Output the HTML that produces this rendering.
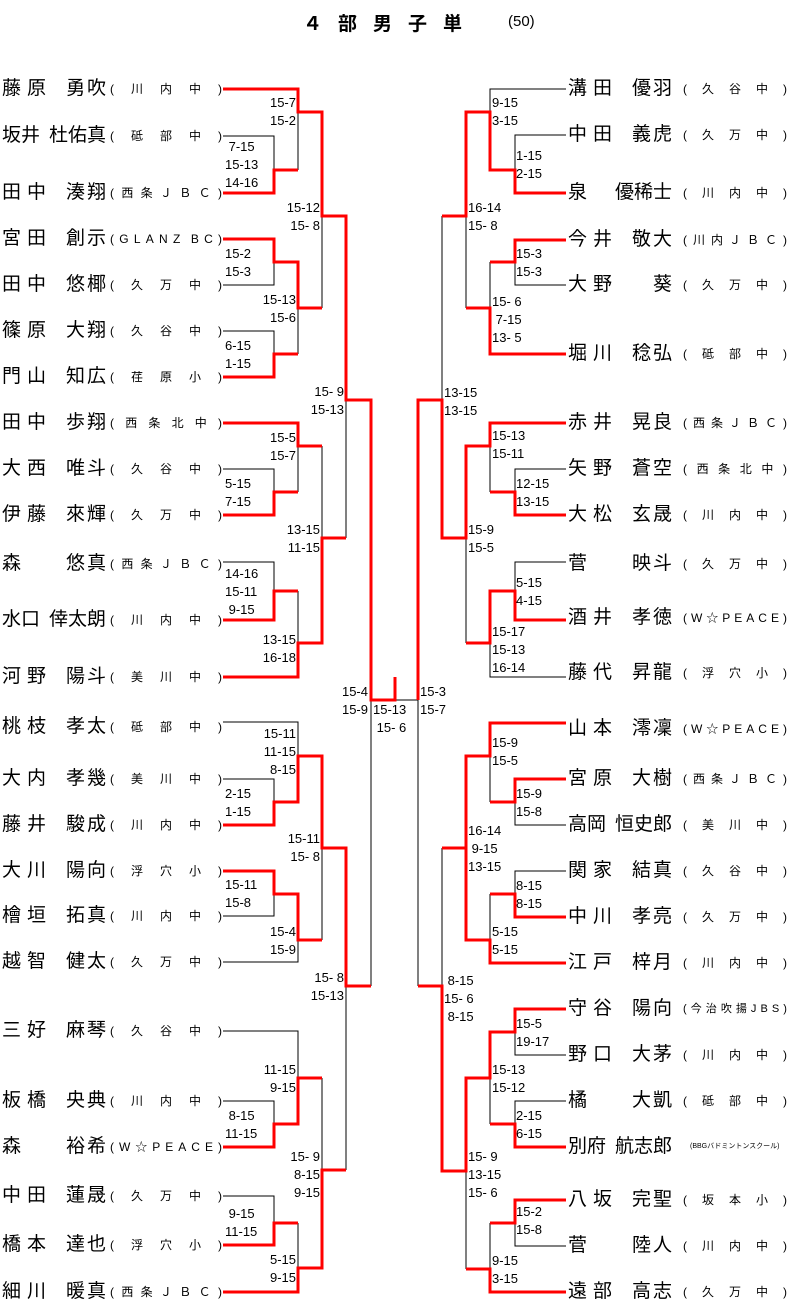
<!DOCTYPE html>
<html><head><meta charset="utf-8">
<style>
body{margin:0;width:789px;height:1316px;background:#fff;position:relative;overflow:hidden;font-family:"Liberation Sans","Noto Sans CJK JP",sans-serif;color:#000}
svg{position:absolute;left:0;top:0}
i{font-style:normal}
.n{position:absolute;width:104px;height:22px;line-height:22px;font-size:19px;display:flex;justify-content:space-between;white-space:nowrap}
.n .a{letter-spacing:6px}
.n .b{letter-spacing:2px;margin-right:-2px}
.n.t3 .a,.n.t3 .b{letter-spacing:0;margin-right:0}
.t{position:absolute;height:22px;line-height:22px;font-size:12px;display:flex;justify-content:space-between;white-space:nowrap}
.L .n{left:2px}.L .t{left:110px;width:112px}
.R .n{left:568px}.R .t{left:683px;width:104px}
.s{position:absolute;font-size:13px;line-height:18px;white-space:pre}
.r{text-align:right}
.title{position:absolute;top:9px;left:303px;font-size:19px;font-weight:bold;letter-spacing:16px}
.title2{position:absolute;top:13px;left:508px;font-size:15px}
</style></head><body>
<div class="title">４部男子単</div><div class="title2">(50)</div>
<svg width="789" height="1316">
<g stroke="#000" stroke-width="1" fill="none">
<path d="M223 136H274V170M298 112V170M223 285H274V262M223 331H274V354M298 308V354M322 216V308M223 469H274V492M298 446V492M223 562H274V591M298 591V643M322 446V538M346 400V538M395 700H418M371 700V986M418 700V986M223 722H298V756M223 779H274V802M223 916H274V894M223 962H298V940M322 848V940M346 986V1170M223 1031H298V1078M223 1101H274V1124M322 1078V1170M223 1196H274V1223M298 1223V1268"/>
<path d="M566 89H490V112M566 135H515V170M490 262V308M466 216V308M566 285H515V262M442 216V400M566 469H515V492M490 446V492M566 562H515V591M490 643V677H566M466 538V643M566 825H515V802M490 756V802M566 871H515V894M490 894V940M442 848V986M566 1055H515V1032M566 1101H515V1124M490 1078V1124M466 1171V1269M566 1246H515V1223M490 1223V1269"/>
</g>
<g stroke="#f00" stroke-width="3" fill="none">
<path d="M223 89H298V112H322V216H346V400H371V700H395V677"/>
<path d="M223 193H274V170H298"/>
<path d="M223 239H274V262H298V308H322"/>
<path d="M223 377H274V354H298"/>
<path d="M223 423H298V446H322"/>
<path d="M223 515H274V492H298"/>
<path d="M223 620H274V591H298"/>
<path d="M223 677H298V643H322V538H346"/>
<path d="M223 825H274V802H298V756H322V848H346V986H371"/>
<path d="M223 871H274V894H298V940H322"/>
<path d="M223 1147H274V1124H298V1078H322"/>
<path d="M223 1245H274V1223H298"/>
<path d="M223 1292H298V1268H322V1170H346"/>
<path d="M566 193H515V170H490V112H466V216H442"/>
<path d="M566 240H515V262H490"/>
<path d="M566 354H490V308H466"/>
<path d="M566 423H490V446H466V538H442V400H418V700"/>
<path d="M566 515H515V492H490"/>
<path d="M566 620H515V591H490V643H466"/>
<path d="M566 723H490V756H466V940H490V963H566"/>
<path d="M566 779H515V802H490"/>
<path d="M566 917H515V894H490"/>
<path d="M466 848H442"/>
<path d="M418 986H442V1171H466V1078H490V1032H515V1009H566"/>
<path d="M566 1147H515V1124H490"/>
<path d="M566 1200H515V1223H490"/>
<path d="M566 1292H490V1269H466"/>
</g>
</svg>

<div class="L">
<div class="n" style="top:78px"><span class="a">藤原</span><span class="b">勇吹</span></div><div class="t" style="top:78px"><i>(</i><i>川</i><i>内</i><i>中</i><i>)</i></div>
<div class="n t3" style="top:125px"><span class="a">坂井</span><span class="b">杜佑真</span></div><div class="t" style="top:125px"><i>(</i><i>砥</i><i>部</i><i>中</i><i>)</i></div>
<div class="n" style="top:182px"><span class="a">田中</span><span class="b">湊翔</span></div><div class="t" style="top:182px"><i>(</i><i>西</i><i>条</i><i>Ｊ</i><i>Ｂ</i><i>Ｃ</i><i>)</i></div>
<div class="n" style="top:228px"><span class="a">宮田</span><span class="b">創示</span></div><div class="t" style="top:228px"><i>(</i><i>G</i><i>L</i><i>A</i><i>N</i><i>Z</i><i> </i><i>B</i><i>C</i><i>)</i></div>
<div class="n" style="top:274px"><span class="a">田中</span><span class="b">悠椰</span></div><div class="t" style="top:274px"><i>(</i><i>久</i><i>万</i><i>中</i><i>)</i></div>
<div class="n" style="top:320px"><span class="a">篠原</span><span class="b">大翔</span></div><div class="t" style="top:320px"><i>(</i><i>久</i><i>谷</i><i>中</i><i>)</i></div>
<div class="n" style="top:366px"><span class="a">門山</span><span class="b">知広</span></div><div class="t" style="top:366px"><i>(</i><i>荏</i><i>原</i><i>小</i><i>)</i></div>
<div class="n" style="top:412px"><span class="a">田中</span><span class="b">歩翔</span></div><div class="t" style="top:412px"><i>(</i><i>西</i><i>条</i><i>北</i><i>中</i><i>)</i></div>
<div class="n" style="top:458px"><span class="a">大西</span><span class="b">唯斗</span></div><div class="t" style="top:458px"><i>(</i><i>久</i><i>谷</i><i>中</i><i>)</i></div>
<div class="n" style="top:504px"><span class="a">伊藤</span><span class="b">來輝</span></div><div class="t" style="top:504px"><i>(</i><i>久</i><i>万</i><i>中</i><i>)</i></div>
<div class="n" style="top:553px"><span class="a">森</span><span class="b">悠真</span></div><div class="t" style="top:553px"><i>(</i><i>西</i><i>条</i><i>Ｊ</i><i>Ｂ</i><i>Ｃ</i><i>)</i></div>
<div class="n t3" style="top:609px"><span class="a">水口</span><span class="b">倖太朗</span></div><div class="t" style="top:609px"><i>(</i><i>川</i><i>内</i><i>中</i><i>)</i></div>
<div class="n" style="top:666px"><span class="a">河野</span><span class="b">陽斗</span></div><div class="t" style="top:666px"><i>(</i><i>美</i><i>川</i><i>中</i><i>)</i></div>
<div class="n" style="top:716px"><span class="a">桃枝</span><span class="b">孝太</span></div><div class="t" style="top:716px"><i>(</i><i>砥</i><i>部</i><i>中</i><i>)</i></div>
<div class="n" style="top:768px"><span class="a">大内</span><span class="b">孝幾</span></div><div class="t" style="top:768px"><i>(</i><i>美</i><i>川</i><i>中</i><i>)</i></div>
<div class="n" style="top:814px"><span class="a">藤井</span><span class="b">駿成</span></div><div class="t" style="top:814px"><i>(</i><i>川</i><i>内</i><i>中</i><i>)</i></div>
<div class="n" style="top:860px"><span class="a">大川</span><span class="b">陽向</span></div><div class="t" style="top:860px"><i>(</i><i>浮</i><i>穴</i><i>小</i><i>)</i></div>
<div class="n" style="top:905px"><span class="a">檜垣</span><span class="b">拓真</span></div><div class="t" style="top:905px"><i>(</i><i>川</i><i>内</i><i>中</i><i>)</i></div>
<div class="n" style="top:951px"><span class="a">越智</span><span class="b">健太</span></div><div class="t" style="top:951px"><i>(</i><i>久</i><i>万</i><i>中</i><i>)</i></div>
<div class="n" style="top:1020px"><span class="a">三好</span><span class="b">麻琴</span></div><div class="t" style="top:1020px"><i>(</i><i>久</i><i>谷</i><i>中</i><i>)</i></div>
<div class="n" style="top:1090px"><span class="a">板橋</span><span class="b">央典</span></div><div class="t" style="top:1090px"><i>(</i><i>川</i><i>内</i><i>中</i><i>)</i></div>
<div class="n" style="top:1136px"><span class="a">森</span><span class="b">裕希</span></div><div class="t" style="top:1136px"><i>(</i><i>W</i><i>☆</i><i>P</i><i>E</i><i>A</i><i>C</i><i>E</i><i>)</i></div>
<div class="n" style="top:1185px"><span class="a">中田</span><span class="b">蓮晟</span></div><div class="t" style="top:1185px"><i>(</i><i>久</i><i>万</i><i>中</i><i>)</i></div>
<div class="n" style="top:1234px"><span class="a">橋本</span><span class="b">達也</span></div><div class="t" style="top:1234px"><i>(</i><i>浮</i><i>穴</i><i>小</i><i>)</i></div>
<div class="n" style="top:1281px"><span class="a">細川</span><span class="b">暖真</span></div><div class="t" style="top:1281px"><i>(</i><i>西</i><i>条</i><i>Ｊ</i><i>Ｂ</i><i>Ｃ</i><i>)</i></div>
</div>

<div class="R">
<div class="n" style="top:78px"><span class="a">溝田</span><span class="b">優羽</span></div><div class="t" style="top:78px"><i>(</i><i>久</i><i>谷</i><i>中</i><i>)</i></div>
<div class="n" style="top:124px"><span class="a">中田</span><span class="b">義虎</span></div><div class="t" style="top:124px"><i>(</i><i>久</i><i>万</i><i>中</i><i>)</i></div>
<div class="n t3" style="top:182px"><span class="a">泉</span><span class="b">優稀士</span></div><div class="t" style="top:182px"><i>(</i><i>川</i><i>内</i><i>中</i><i>)</i></div>
<div class="n" style="top:229px"><span class="a">今井</span><span class="b">敬大</span></div><div class="t" style="top:229px"><i>(</i><i>川</i><i>内</i><i>Ｊ</i><i>Ｂ</i><i>Ｃ</i><i>)</i></div>
<div class="n" style="top:274px"><span class="a">大野</span><span class="b">葵</span></div><div class="t" style="top:274px"><i>(</i><i>久</i><i>万</i><i>中</i><i>)</i></div>
<div class="n" style="top:343px"><span class="a">堀川</span><span class="b">稔弘</span></div><div class="t" style="top:343px"><i>(</i><i>砥</i><i>部</i><i>中</i><i>)</i></div>
<div class="n" style="top:412px"><span class="a">赤井</span><span class="b">晃良</span></div><div class="t" style="top:412px"><i>(</i><i>西</i><i>条</i><i>Ｊ</i><i>Ｂ</i><i>Ｃ</i><i>)</i></div>
<div class="n" style="top:458px"><span class="a">矢野</span><span class="b">蒼空</span></div><div class="t" style="top:458px"><i>(</i><i>西</i><i>条</i><i>北</i><i>中</i><i>)</i></div>
<div class="n" style="top:504px"><span class="a">大松</span><span class="b">玄晟</span></div><div class="t" style="top:504px"><i>(</i><i>川</i><i>内</i><i>中</i><i>)</i></div>
<div class="n" style="top:553px"><span class="a">菅</span><span class="b">映斗</span></div><div class="t" style="top:553px"><i>(</i><i>久</i><i>万</i><i>中</i><i>)</i></div>
<div class="n" style="top:607px"><span class="a">酒井</span><span class="b">孝徳</span></div><div class="t" style="top:607px"><i>(</i><i>W</i><i>☆</i><i>P</i><i>E</i><i>A</i><i>C</i><i>E</i><i>)</i></div>
<div class="n" style="top:662px"><span class="a">藤代</span><span class="b">昇龍</span></div><div class="t" style="top:662px"><i>(</i><i>浮</i><i>穴</i><i>小</i><i>)</i></div>
<div class="n" style="top:718px"><span class="a">山本</span><span class="b">澪凜</span></div><div class="t" style="top:718px"><i>(</i><i>W</i><i>☆</i><i>P</i><i>E</i><i>A</i><i>C</i><i>E</i><i>)</i></div>
<div class="n" style="top:768px"><span class="a">宮原</span><span class="b">大樹</span></div><div class="t" style="top:768px"><i>(</i><i>西</i><i>条</i><i>Ｊ</i><i>Ｂ</i><i>Ｃ</i><i>)</i></div>
<div class="n t3" style="top:814px"><span class="a">高岡</span><span class="b">恒史郎</span></div><div class="t" style="top:814px"><i>(</i><i>美</i><i>川</i><i>中</i><i>)</i></div>
<div class="n" style="top:860px"><span class="a">関家</span><span class="b">結真</span></div><div class="t" style="top:860px"><i>(</i><i>久</i><i>谷</i><i>中</i><i>)</i></div>
<div class="n" style="top:906px"><span class="a">中川</span><span class="b">孝亮</span></div><div class="t" style="top:906px"><i>(</i><i>久</i><i>万</i><i>中</i><i>)</i></div>
<div class="n" style="top:952px"><span class="a">江戸</span><span class="b">梓月</span></div><div class="t" style="top:952px"><i>(</i><i>川</i><i>内</i><i>中</i><i>)</i></div>
<div class="n" style="top:998px"><span class="a">守谷</span><span class="b">陽向</span></div><div class="t" style="top:998px;font-size:11px"><i>(</i><i>今</i><i>治</i><i>吹</i><i>揚</i><i>J</i><i>B</i><i>S</i><i>)</i></div>
<div class="n" style="top:1044px"><span class="a">野口</span><span class="b">大茅</span></div><div class="t" style="top:1044px"><i>(</i><i>川</i><i>内</i><i>中</i><i>)</i></div>
<div class="n" style="top:1090px"><span class="a">橘</span><span class="b">大凱</span></div><div class="t" style="top:1090px"><i>(</i><i>砥</i><i>部</i><i>中</i><i>)</i></div>
<div class="n t3" style="top:1136px"><span class="a">別府</span><span class="b">航志郎</span></div><div class="t" style="top:1136px;font-size:7px;left:690px;width:90px"><i>(BBGバドミントンスクール)</i></div>
<div class="n" style="top:1189px"><span class="a">八坂</span><span class="b">完聖</span></div><div class="t" style="top:1189px"><i>(</i><i>坂</i><i>本</i><i>小</i><i>)</i></div>
<div class="n" style="top:1235px"><span class="a">菅</span><span class="b">陸人</span></div><div class="t" style="top:1235px"><i>(</i><i>川</i><i>内</i><i>中</i><i>)</i></div>
<div class="n" style="top:1281px"><span class="a">遠部</span><span class="b">高志</span></div><div class="t" style="top:1281px"><i>(</i><i>久</i><i>万</i><i>中</i><i>)</i></div>
</div>

<!-- left scores -->
<div class="s r" style="right:493px;top:94px">15-7
15-2</div>
<div class="s" style="left:225px;top:138px"> 7-15
15-13
14-16</div>
<div class="s r" style="right:469px;top:199px">15-12
15- 8</div>
<div class="s" style="left:225px;top:245px">15-2
15-3</div>
<div class="s r" style="right:493px;top:291px">15-13
15-6</div>
<div class="s" style="left:225px;top:337px">6-15
1-15</div>
<div class="s r" style="right:445px;top:383px">15- 9
15-13</div>
<div class="s r" style="right:493px;top:429px">15-5
15-7</div>
<div class="s" style="left:225px;top:475px">5-15
7-15</div>
<div class="s r" style="right:469px;top:521px">13-15
11-15</div>
<div class="s" style="left:225px;top:565px">14-16
15-11
 9-15</div>
<div class="s r" style="right:493px;top:631px">13-15
16-18</div>
<div class="s r" style="right:421px;top:683px">15-4
15-9</div>
<div class="s" style="left:373px;top:701px">15-13
 15- 6</div>
<div class="s" style="left:420px;top:683px">15-3
15-7</div>
<div class="s r" style="right:493px;top:725px">15-11
11-15
8-15</div>
<div class="s" style="left:225px;top:785px">2-15
1-15</div>
<div class="s r" style="right:469px;top:830px">15-11
15- 8</div>
<div class="s" style="left:225px;top:876px">15-11
15-8</div>
<div class="s r" style="right:493px;top:923px">15-4
15-9</div>
<div class="s r" style="right:445px;top:969px">15- 8
15-13</div>
<div class="s r" style="right:493px;top:1061px">11-15
9-15</div>
<div class="s" style="left:225px;top:1107px"> 8-15
11-15</div>
<div class="s r" style="right:469px;top:1148px">15- 9
8-15
9-15</div>
<div class="s" style="left:225px;top:1205px"> 9-15
11-15</div>
<div class="s r" style="right:493px;top:1251px">5-15
9-15</div>

<!-- right scores -->
<div class="s" style="left:492px;top:94px">9-15
3-15</div>
<div class="s" style="left:516px;top:147px">1-15
2-15</div>
<div class="s" style="left:468px;top:199px">16-14
15- 8</div>
<div class="s" style="left:516px;top:245px">15-3
15-3</div>
<div class="s" style="left:492px;top:293px">15- 6
 7-15
13- 5</div>
<div class="s" style="left:444px;top:384px">13-15
13-15</div>
<div class="s" style="left:492px;top:427px">15-13
15-11</div>
<div class="s" style="left:516px;top:475px">12-15
13-15</div>
<div class="s" style="left:468px;top:521px">15-9
15-5</div>
<div class="s" style="left:516px;top:574px">5-15
4-15</div>
<div class="s" style="left:492px;top:623px">15-17
15-13
16-14</div>
<div class="s" style="left:492px;top:734px">15-9
15-5</div>
<div class="s" style="left:516px;top:785px">15-9
15-8</div>
<div class="s" style="left:468px;top:822px">16-14
 9-15
13-15</div>
<div class="s" style="left:516px;top:877px">8-15
8-15</div>
<div class="s" style="left:492px;top:923px">5-15
5-15</div>
<div class="s" style="left:444px;top:972px"> 8-15
15- 6
 8-15</div>
<div class="s" style="left:516px;top:1015px">15-5
19-17</div>
<div class="s" style="left:492px;top:1061px">15-13
15-12</div>
<div class="s" style="left:516px;top:1107px">2-15
6-15</div>
<div class="s" style="left:468px;top:1148px">15- 9
13-15
15- 6</div>
<div class="s" style="left:516px;top:1203px">15-2
15-8</div>
<div class="s" style="left:492px;top:1252px">9-15
3-15</div>
</body></html>
